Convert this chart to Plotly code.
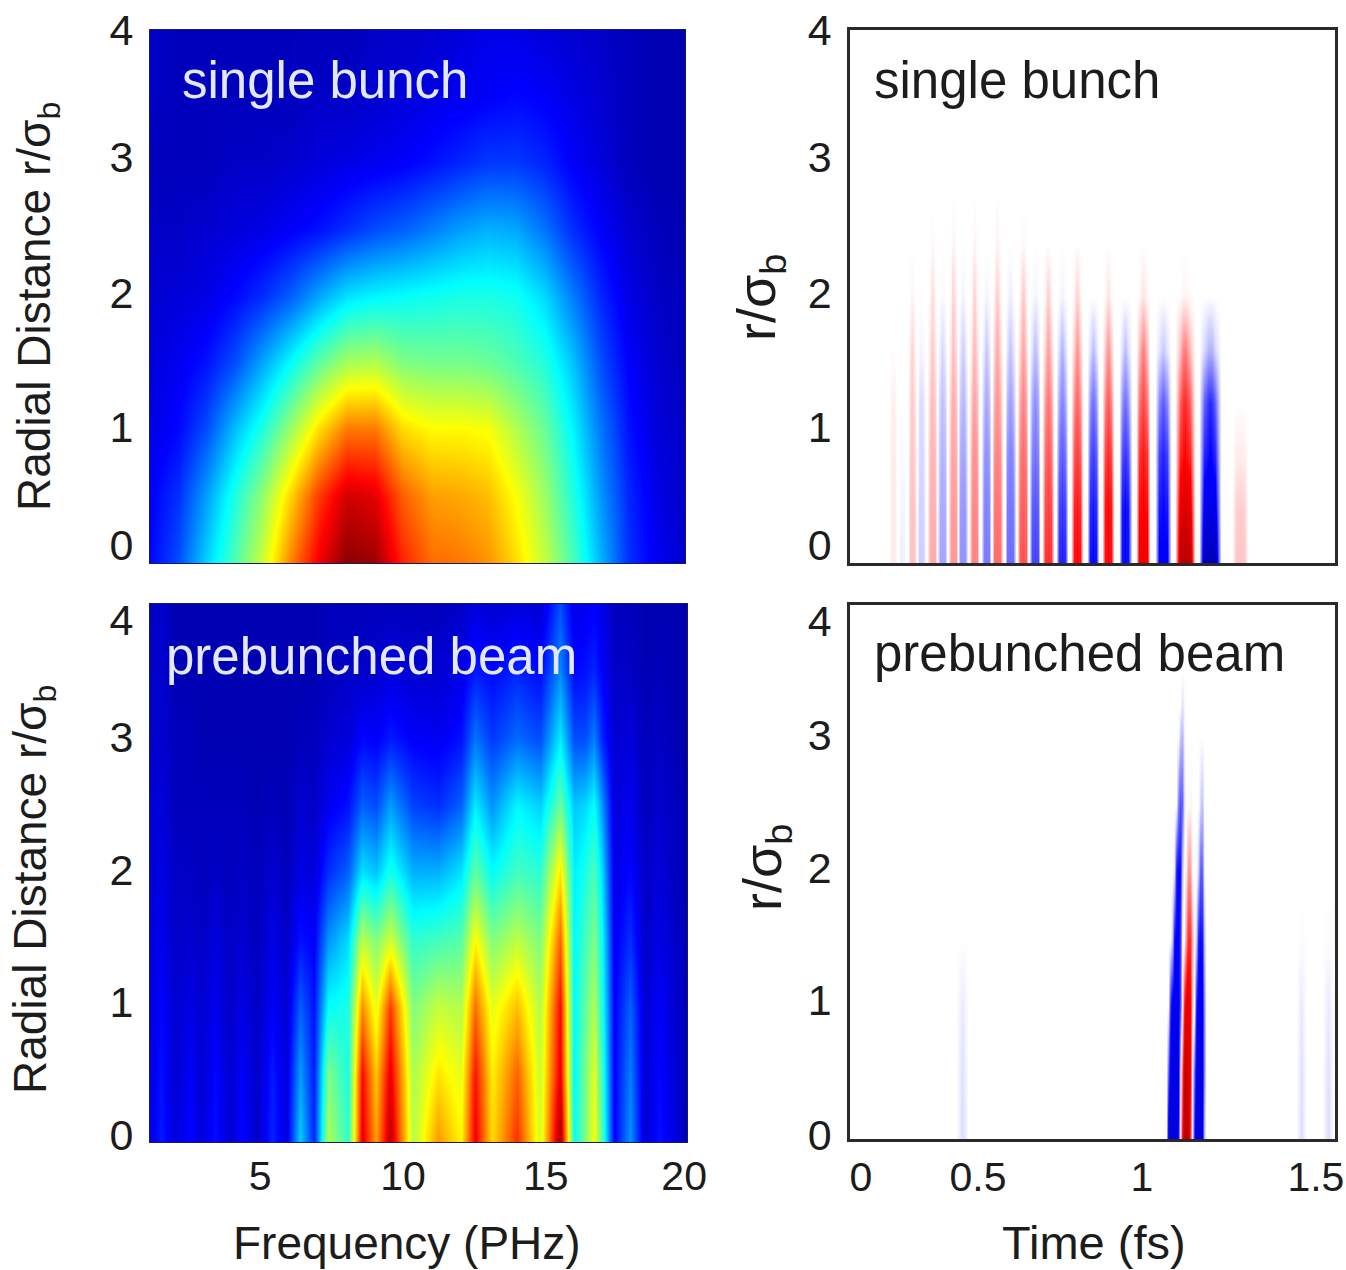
import plotly.graph_objects as go

# ---------- shared text ----------
PANEL_SINGLE = "single bunch"
PANEL_PRE = "prebunched beam"
TITLE_RADIAL = "Radial Distance r/σ<sub>b</sub>"
TITLE_R = "r/σ<sub>b</sub>"
TITLE_FREQ = "Frequency (PHz)"
TITLE_TIME = "Time (fs)"
Y_TICK_TEXT = ["0", "1", "2", "3", "4"]
FREQ_TICK_TEXT = ["5", "10", "15", "20"]
FREQ_TICK_VALS = [4.9, 9.95, 15.0, 19.9]
TIME_TICK_TEXT = ["0", "0.5", "1", "1.5"]
TIME_TICK_VALS = [0.034, 0.396, 0.903, 1.441]
# label positions (labels are not exactly on the scale)
Y_TICKS_A = [0.135, 1.02, 2.03, 3.05, 4.0]
Y_TICKS_B = [0.05, 1.04, 2.02, 3.01, 3.88]
Y_TICKS_C = [0.135, 1.02, 2.03, 3.05, 4.0]
Y_TICKS_D = [0.03, 1.04, 2.03, 3.03, 3.88]

# ---------- panel A: spectrum, single bunch (jet scale 0..1) ----------
A_FREQ = list(range(1, 21))
A_R = [0, 0.5, 1, 1.5, 2, 2.5, 3, 3.5, 4]
A_R00 = [.13,.20,.33,.45,.58,.75,.89,.99,.97,.84,.77,.76,.73,.66,.57,.45,.30,.17,.11,.08]
A_R05 = [.12,.17,.28,.40,.52,.67,.82,.92,.90,.78,.72,.71,.69,.62,.53,.41,.27,.16,.10,.07]
A_R10 = [.10,.13,.20,.31,.41,.53,.66,.76,.76,.66,.63,.63,.62,.55,.48,.37,.24,.14,.09,.07]
A_R15 = [.09,.11,.14,.20,.29,.38,.47,.54,.55,.50,.49,.49,.48,.45,.41,.32,.20,.12,.08,.06]
A_R20 = [.08,.09,.10,.13,.17,.22,.29,.35,.37,.38,.39,.40,.40,.39,.34,.25,.16,.10,.07,.06]
A_R25 = [.07,.07,.08,.09,.10,.12,.14,.17,.20,.22,.25,.28,.30,.29,.24,.17,.12,.08,.06,.05]
A_R30 = [.06,.06,.06,.07,.07,.08,.09,.10,.11,.12,.14,.16,.18,.18,.16,.12,.09,.06,.05,.05]
A_R35 = [.07,.06,.06,.06,.06,.06,.07,.07,.08,.09,.10,.11,.12,.13,.12,.10,.08,.06,.05,.05]
A_R40 = [.07,.06,.06,.06,.06,.06,.06,.06,.07,.07,.08,.09,.10,.10,.09,.08,.07,.06,.05,.05]
A_Z = [A_R00, A_R05, A_R10, A_R15, A_R20, A_R25, A_R30, A_R35, A_R40]

# ---------- panel B: spectrum, prebunched (one list per frequency column) ----------
B_R = [0, 0.5, 1, 1.5, 2, 2.5, 3, 3.5, 4]
B_FREQ = [1, 1.4, 1.9, 2.4, 2.85, 3.3, 3.8, 4.25, 4.8, 5.3, 5.8, 6.3, 6.8, 7.3, 8.0, 8.5,
          9.0, 9.5, 10.3, 11.2, 12.0, 12.5, 13.1, 14.0, 14.8, 15.5, 16.0, 16.4, 16.7, 17.0, 17.4,
          18.0, 18.5, 19.0, 19.6, 20]
B_COLUMNS = [
    [.10,.10,.09,.09,.08,.08,.07,.07,.06],
    [.15,.14,.13,.11,.10,.09,.08,.08,.08],
    [.09,.08,.08,.07,.07,.06,.06,.05,.05],
    [.13,.12,.10,.08,.07,.06,.06,.05,.05],
    [.09,.08,.08,.07,.06,.06,.05,.05,.05],
    [.14,.13,.11,.09,.07,.06,.05,.05,.05],
    [.08,.08,.07,.07,.06,.06,.05,.05,.05],
    [.13,.12,.10,.08,.07,.06,.05,.05,.05],
    [.07,.07,.07,.06,.06,.05,.05,.05,.05],
    [.16,.15,.12,.10,.08,.06,.05,.05,.05],
    [.09,.09,.08,.07,.06,.05,.05,.05,.05],
    [.33,.28,.22,.14,.10,.08,.06,.05,.05],
    [.16,.15,.14,.12,.09,.07,.06,.05,.05],
    [.55,.50,.38,.27,.17,.11,.08,.06,.06],
    [.42,.40,.40,.34,.22,.14,.09,.07,.06],
    [.90,.87,.74,.56,.35,.22,.13,.07,.06],
    [.72,.68,.60,.50,.32,.20,.12,.08,.06],
    [.95,.90,.82,.58,.40,.28,.15,.09,.06],
    [.55,.54,.50,.42,.30,.19,.12,.08,.06],
    [.73,.65,.57,.44,.30,.17,.11,.08,.06],
    [.63,.60,.55,.46,.35,.22,.14,.10,.07],
    [.89,.86,.77,.63,.47,.36,.24,.15,.09],
    [.66,.64,.60,.50,.38,.27,.18,.13,.08],
    [.83,.78,.69,.56,.44,.37,.23,.16,.09],
    [.58,.57,.55,.50,.42,.33,.20,.13,.08],
    [.98,.90,.87,.78,.65,.48,.36,.26,.20],
    [.38,.37,.37,.37,.36,.32,.20,.13,.10],
    [.50,.49,.47,.44,.40,.34,.20,.14,.11],
    [.62,.60,.55,.50,.45,.38,.25,.16,.12],
    [.45,.43,.40,.38,.34,.27,.16,.12,.10],
    [.12,.12,.12,.11,.10,.09,.08,.07,.06],
    [.27,.25,.22,.17,.13,.11,.09,.07,.06],
    [.08,.08,.08,.07,.07,.06,.06,.05,.05],
    [.14,.13,.12,.10,.09,.08,.07,.06,.05],
    [.09,.08,.08,.07,.06,.06,.05,.05,.05],
    [.06,.06,.06,.06,.05,.05,.05,.05,.05],
]
B_Z = [[col[i] for col in B_COLUMNS] for i in range(len(B_R))]

# ---------- panel C: field, single bunch (signed amplitude at each r level) ----------
C_R = [0, 0.4, 0.8, 1.2, 1.6, 2.0, 2.4, 2.8]
C_TIME = [.133,.161,.192,.220,.254,.285,.319,.349,.384,.421,.455,.495,.535,.572,.612,.656,
          .702,.752,.798,.851,.906,.968,1.036,1.113,1.206]
C_HALF = [.011,.011,.014,.014,.015,.015,.015,.015,.016,.016,.017,.017,.017,.017,.018,.018,
          .020,.018,.020,.020,.022,.025,.031,.034,.026]
# how much of the centre amplitude the stripe keeps away from its centre, per r level
C_SHOULDER = [.95, .92, .85, .72, .50, .25, .05, 0]
C_AMP = [
    [ .04, .04, .04, .03, .005, 0, 0, 0],
    [-.03,-.02,-.01, 0, 0, 0, 0, 0],
    [ .12, .12, .11, .10, .08, .02, 0, 0],
    [-.10,-.09,-.08,-.07,-.02, 0, 0, 0],
    [ .17, .16, .15, .13, .10, .06, .01, 0],
    [-.18,-.17,-.15,-.12,-.07,-.01, 0, 0],
    [ .21, .20, .18, .16, .12, .08, .02, 0],
    [-.22,-.21,-.18,-.14,-.09,-.02, 0, 0],
    [ .25, .24, .22, .18, .13, .08, .02, 0],
    [-.27,-.25,-.22,-.17,-.10,-.02, 0, 0],
    [ .30, .28, .25, .21, .16, .09, .02, 0],
    [-.30,-.28,-.25,-.19,-.11,-.03, 0, 0],
    [ .35, .32, .29, .24, .17, .10, .01, 0],
    [-.38,-.34,-.28,-.22,-.12,-.02, 0, 0],
    [ .42, .38, .33, .27, .18, .09, 0, 0],
    [-.45,-.40,-.32,-.24,-.14,-.02, 0, 0],
    [ .50, .46, .38, .30, .20, .08, 0, 0],
    [-.50,-.46,-.38,-.28,-.12, 0, 0, 0],
    [ .50, .50, .42, .32, .20, .05, 0, 0],
    [-.50,-.50,-.40,-.28,-.12, 0, 0, 0],
    [ .58, .52, .46, .36, .24, .05, 0, 0],
    [-.55,-.50,-.44,-.32,-.10, 0, 0, 0],
    [ .80, .65, .50, .42, .25, .02, 0, 0],
    [-.80,-.62,-.50,-.42,-.15, 0, 0, 0],
    [ .12, .10, .04, 0, 0, 0, 0, 0],
]

# ---------- panel D: field, prebunched ----------
D_R = [0, 0.5, 1, 1.5, 2, 2.5, 3, 3.25, 3.5]
D_TIME = [.328,.346,.365,
          .9711,.9773,.9835,.9897,.9958,1.0020,1.0082,1.0144,1.0206,1.0268,1.0330,
          1.0392,1.0454,1.0516,1.0578,1.0640,1.0702,1.0764,1.0826,1.0888,1.0950,1.1012,
          1.380,1.395,1.411,1.460,1.479,1.494]
D_R00 = [0,-.07,0] + [0,0,-.60,-.62,-.65,-.65,-.60,-.45,0,.50,.75,.80,.70,.40,0,-.45,-.60,-.65,-.62,-.55,-.10,0] + [0,-.07,0,0,-.07,0]
D_R05 = [0,-.06,0] + [0,0,-.30,-.58,-.60,-.60,-.60,-.55,-.05,.30,.70,.72,.65,.50,0,-.30,-.58,-.60,-.60,-.55,-.20,0] + [0,-.06,0,0,-.06,0]
D_R10 = [0,-.04,0] + [0,0,0,-.40,-.55,-.55,-.55,-.55,-.35,0,.45,.60,.60,.50,.10,0,-.45,-.55,-.55,-.52,-.20,0] + [0,-.04,0,0,-.04,0]
D_R15 = [0,0,0] + [0,0,0,0,-.10,-.48,-.50,-.50,-.40,0,0,.25,.42,.40,.15,0,-.10,-.45,-.48,-.45,-.10,0] + [0,-.005,0,0,-.005,0]
D_R20 = [0,0,0] + [0,0,0,0,0,-.05,-.45,-.50,-.48,-.10,0,.05,.22,.20,0,0,0,-.10,-.33,-.30,0,0] + [0,0,0,0,0,0]
D_R25 = [0,0,0] + [0,0,0,0,0,0,0,-.25,-.35,-.30,-.05,0,.01,.02,0,0,0,0,-.08,-.12,0,0] + [0,0,0,0,0,0]
D_R30 = [0,0,0] + [0,0,0,0,0,0,0,0,-.12,-.15,-.02,0,0,0,0,0,0,0,0,0,0,0] + [0,0,0,0,0,0]
D_R32 = [0,0,0] + [0,0,0,0,0,0,0,0,0,-.06,-.01,0,0,0,0,0,0,0,0,0,0,0] + [0,0,0,0,0,0]
D_R35 = [0,0,0] + [0]*22 + [0,0,0,0,0,0]
D_Z = [D_R00, D_R05, D_R10, D_R15, D_R20, D_R25, D_R30, D_R32, D_R35]

# ---------- styling ----------
W, H = 1346, 1270
INK = "#1c1c1c"
JET = [[0, "rgb(0,0,127)"], [.125, "rgb(0,0,255)"], [.375, "rgb(0,255,255)"],
       [.5, "rgb(128,255,128)"], [.625, "rgb(255,255,0)"], [.875, "rgb(255,0,0)"], [1, "rgb(127,0,0)"]]
RWB = [[0, "rgb(0,0,127)"], [.25, "rgb(0,0,255)"], [.5, "rgb(255,255,255)"],
       [.75, "rgb(255,0,0)"], [1, "rgb(127,0,0)"]]

# stripes of panel C become columns: zero edge, shoulder, near-centre, centre, ...
c_x, c_cols = [0.0], [[0] * len(C_R)]
for t, hw, amp in zip(C_TIME, C_HALF, C_AMP):
    for off, kind in ((-1, 0), (-.5, 1), (-.15, 2), (0, 3), (.15, 2), (.5, 1), (1, 0)):
        c_x.append(t + off * hw)
        if kind == 0:
            c_cols.append([0] * len(C_R))
        elif kind == 1:
            c_cols.append([a * s for a, s in zip(amp, C_SHOULDER)])
        elif kind == 2:
            c_cols.append([a * .95 for a in amp])
        else:
            c_cols.append(list(amp))
c_x.append(1.5)
c_cols.append([0] * len(C_R))
C_Z = [[col[i] for col in c_cols] for i in range(len(C_R))]

fig = go.Figure()
common = dict(zsmooth="best", showscale=False, hoverinfo="skip")
fig.add_trace(go.Heatmap(x=A_FREQ, y=A_R, z=A_Z, colorscale=JET, zmin=0, zmax=1, xaxis="x", yaxis="y", **common))
fig.add_trace(go.Heatmap(x=c_x, y=C_R, z=C_Z, colorscale=RWB, zmin=-1, zmax=1, xaxis="x2", yaxis="y2", **common))
fig.add_trace(go.Heatmap(x=B_FREQ, y=B_R, z=B_Z, colorscale=JET, zmin=0, zmax=1, xaxis="x3", yaxis="y3", **common))
fig.add_trace(go.Heatmap(x=D_TIME, y=D_R, z=D_Z, colorscale=RWB, zmin=-1, zmax=1, xaxis="x4", yaxis="y4", **common))


def xdom(l, r):
    return [l / W, r / W]


def ydom(t, b):
    return [1 - b / H, 1 - t / H]


tick_font = dict(family="Liberation Sans", size=43, color=INK)
xtick_font = dict(family="Liberation Sans", size=41, color=INK)
base_axis = dict(ticks="", showgrid=False, zeroline=False, automargin=False, mirror=True, showline=True)
frame = dict(linecolor="#2a2a2a", linewidth=2.5, **base_axis)
thin = dict(linecolor="#1a1a5a", linewidth=1, **base_axis)

fig.update_layout(
    width=W, height=H, margin=dict(l=0, r=0, t=0, b=0, autoexpand=False),
    paper_bgcolor="white", plot_bgcolor="white", showlegend=False,
    xaxis=dict(domain=xdom(150, 685), range=[1, 20], showticklabels=False, anchor="y", **thin),
    yaxis=dict(domain=ydom(30, 563), range=[0, 4], tickvals=Y_TICKS_A, ticktext=Y_TICK_TEXT,
               tickfont=tick_font, ticklabelstandoff=7, anchor="x", **thin),
    xaxis2=dict(domain=xdom(850, 1335), range=[0, 1.5], showticklabels=False, anchor="y2", **frame),
    yaxis2=dict(domain=ydom(30, 563), range=[0, 4], tickvals=Y_TICKS_C, ticktext=Y_TICK_TEXT,
                tickfont=tick_font, ticklabelstandoff=7, anchor="x2", **frame),
    xaxis3=dict(domain=xdom(150, 687), range=[1, 20], tickvals=FREQ_TICK_VALS, ticktext=FREQ_TICK_TEXT,
                tickfont=xtick_font, ticklabelstandoff=-2, anchor="y3", **thin),
    yaxis3=dict(domain=ydom(604, 1142), range=[0, 4], tickvals=Y_TICKS_B, ticktext=Y_TICK_TEXT,
                tickfont=tick_font, ticklabelstandoff=7, anchor="x3", **thin),
    xaxis4=dict(domain=xdom(850, 1335), range=[0, 1.5], tickvals=TIME_TICK_VALS, ticktext=TIME_TICK_TEXT,
                tickfont=xtick_font, ticklabelstandoff=0, anchor="y4", **frame),
    yaxis4=dict(domain=ydom(605, 1139), range=[0, 4], tickvals=Y_TICKS_D, ticktext=Y_TICK_TEXT,
                tickfont=tick_font, ticklabelstandoff=7, anchor="x4", **frame),
)


def label(text, cx, cy, size, color=INK, angle=0):
    fig.add_annotation(text=text, x=cx / W, y=1 - cy / H, xref="paper", yref="paper", showarrow=False,
                       xanchor="center", yanchor="middle", textangle=angle,
                       font=dict(family="Liberation Sans", size=size, color=color))


label(PANEL_SINGLE, 325, 80, 51, "#e4e8ff")
label(PANEL_PRE, 371, 656, 51, "#e4e8ff")
label(PANEL_SINGLE, 1017, 80, 51)
label(PANEL_PRE, 1079, 654, 51)
label(TITLE_RADIAL, 37, 307, 46, angle=-90)
label(TITLE_RADIAL, 33, 890, 46, angle=-90)
label(TITLE_R, 760, 298, 54, angle=-90)
label(TITLE_R, 766, 868, 54, angle=-90)
label(TITLE_FREQ, 407, 1243, 46)
label(TITLE_TIME, 1094, 1242, 47)

fig.write_html("out.html", config={"displayModeBar": False},
               post_script="document.body.style.margin='0';")
